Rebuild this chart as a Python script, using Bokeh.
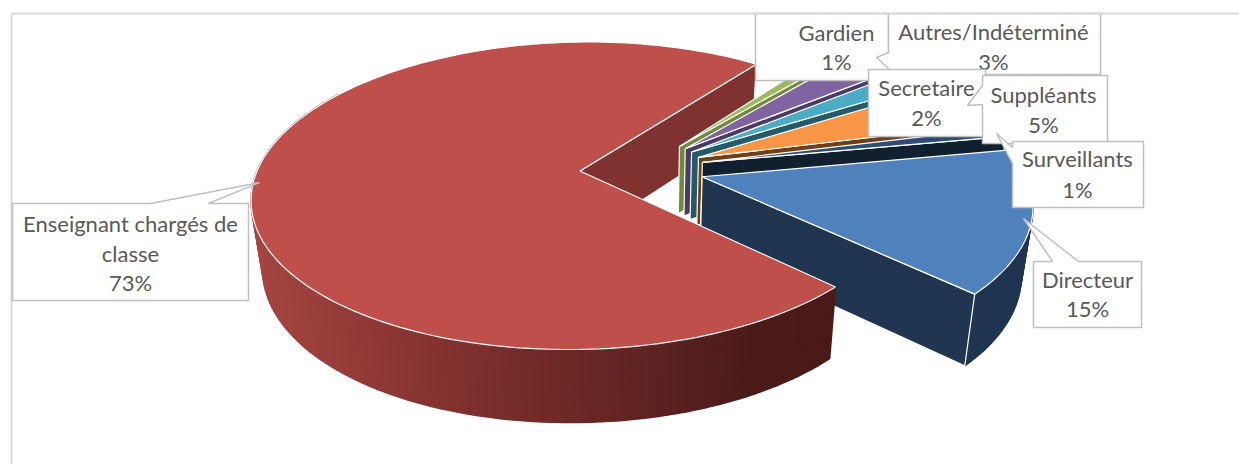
import numpy as np
from bokeh.plotting import figure
from bokeh.models import Range1d
from bokeh.core.properties import value
from bokeh.embed import file_html
from bokeh.resources import INLINE

# data
categories = ["Directeur", "Enseignant chargés de classe", "Gardien", "Autres/Indéterminé",
              "Secretaire", "Suppléants", "Surveillants"]
percents = [15, 73, 1, 3, 2, 5, 1]

# style
top_colors = ["#4F81BD", "#BE4F4B", "#9BBB59", "#8064A2", "#4BACC6", "#F79646", "#2C4D75"]
face_colors = ["#1F3550", "#7F322F", "#6F8A3A", "#4A3B66", "#235B68", "#6F3F17", "#10202F"]
first_angle = 79.5
Xc, Yc, A, B, K, EXPLODE = 641.5, 168.0, 322.0, 149.0, 0.16, 0.193
WALL, WALL_V, TAPER = 68.0, 5.0, 0.97


def project(theta, r, mid, h=0):
    t, m = np.radians(theta), np.radians(mid)
    u = EXPLODE * np.sin(m) + r * np.sin(t)
    v = -EXPLODE * np.cos(m) - r * np.cos(t)
    s = 1 / (1 - K * v)
    x = A * u * s
    y = Yc + B * v * s
    if h:
        return Xc + x * TAPER, y + WALL + WALL_V * v
    return Xc + x, y


W, H = 1239, 464
p = figure(width=W, height=H, output_backend="svg", toolbar_location=None,
           x_range=Range1d(0, W), y_range=Range1d(H, 0), min_border=0,
           outline_line_color=None, background_fill_color="white", border_fill_color="white")
p.axis.visible = False
p.grid.visible = False

edges = first_angle + np.cumsum([0] + percents) * 3.6
slices = [(i, edges[i], edges[i + 1]) for i in range(len(percents))]

# chart frame
FRAME_T, FRAME_L = 13, 11
p.line([FRAME_L, FRAME_L], [H, FRAME_T], line_color="#D9D9D9", line_width=2)


def angles(a0, a1):
    return np.linspace(a0, a1, max(int((a1 - a0) / 1.5) + 2, 4))


def draw_wall(i, a0, a1):
    mid = (a0 + a1) / 2
    th = angles(a0, a1)
    vis = th[th < 305]
    xs, ys, cols = [], [], []
    for t0, t1 in zip(vis[:-1], vis[1:]):
        x0, y0 = project(t0, 1, mid)
        x1, y1 = project(t1, 1, mid)
        x2, y2 = project(t1, 1, mid, 1)
        x3, y3 = project(t0, 1, mid, 1)
        xs.append([x0, x1, x2, x3])
        ys.append([y0, y1, y2, y3])
        if i == 1:
            xm = (x0 + x1) / 2
            r = np.interp(xm, [255, 400, 550, 750, 835], [165, 138, 112, 76, 74])
            g = np.interp(xm, [255, 400, 550, 750, 835], [69, 54, 42, 28, 26])
            cols.append("#%02x%02x%02x" % (int(r), int(g), int(g * 0.95)))
        else:
            cols.append(face_colors[i])
    p.patches(xs, ys, fill_color=cols, line_color=cols, line_width=1.5)


def draw_face(i, a0, a1):
    mid = (a0 + a1) / 2
    xt0, yt0 = project(a1, 0, mid)
    xt1, yt1 = project(a1, 1, mid)
    xb1, yb1 = project(a1, 1, mid, 1)
    xb0, yb0 = project(a1, 0, mid, 1)
    p.patch([xt0, xt1, xb1, xb0], [yt0, yt1, yb1, yb0], fill_color=face_colors[i],
            line_color="white", line_width=1.2)


def draw_top(i, a0, a1):
    mid = (a0 + a1) / 2
    rx, ry = project(angles(a0, a1), 1, mid)
    ax, ay = project(a0, 0, mid)
    p.patch(np.r_[ax, rx], np.r_[ay, ry], fill_color=top_colors[i],
            line_color="white", line_width=1.2)


# painter's order: red end face, slivers, blue, then the red wall and top
draw_face(*slices[1])
for s in slices[2:]:
    draw_face(*s)
    draw_top(*s)
draw_wall(*slices[0])
draw_face(*slices[0])
draw_top(*slices[0])
draw_wall(*slices[1])
draw_top(*slices[1])

# labels: slice index, box (left, right, top, bottom), side, pointer, text centre, lines, line y
labels = [
    (1, (12, 248, 203, 300), "top", [(150, 203), (259, 182), (208, 203)], 130,
     ["Enseignant chargés de", "classe"], [223, 253, 282]),
    (0, (1033, 1141, 261, 327), "top", [(1052, 261), (1023, 218), (1078, 261)], 1087,
     ["Directeur"], [279, 308]),
    (2, (755, 888, FRAME_T, 80), None, None, 836, ["Gardien"], [32, 61]),
    (3, (888, 1100, FRAME_T, 74), "left", [(888, 68), (876, 57), (888, 52)], 993,
     ["Autres/Indéterminé"], [31, 61]),
    (4, (868, 985, 69, 136), None, None, 926, ["Secretaire"], [87, 117]),
    (5, (982, 1107, 75, 143), "left", [(982, 104), (967, 105), (982, 85)], 1043,
     ["Suppléants"], [94, 124]),
    (6, (1012, 1143, 141, 207), "left", [(1012, 163), (996, 133), (1012, 147)], 1077,
     ["Surveillants"], [158, 189]),
]

for i, (l, r, t, b), side, ptr, cx, lines, ys in labels:
    if side == "top":
        poly = [(l, t), ptr[0], ptr[1], ptr[2], (r, t), (r, b), (l, b)]
    elif side == "left":
        poly = [(l, t), (r, t), (r, b), (l, b), ptr[0], ptr[1], ptr[2]]
    else:
        poly = [(l, t), (r, t), (r, b), (l, b)]
    xs, ys_ = zip(*poly)
    p.patch(list(xs), list(ys_), fill_color="white", line_color="#BFBFBF", line_width=1.5)
    txt = lines + [f"{percents[i]}%"]
    p.text(x=[cx] * len(txt), y=ys, text=txt, text_font=value("Lato"), text_font_size="22px",
           text_color="#595959", text_align="center", text_baseline="middle")

p.line([FRAME_L, W], [FRAME_T, FRAME_T], line_color="#D9D9D9", line_width=2)

open("out.html", "w").write(file_html(p, INLINE))
